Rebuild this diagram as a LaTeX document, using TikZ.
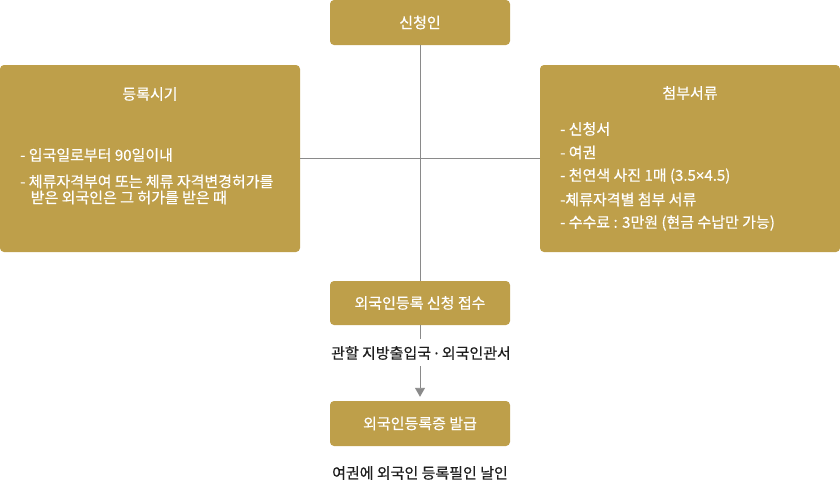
\documentclass[tikz,border=0pt]{standalone}
\usepackage{fontspec}
\setmainfont{Noto Sans CJK KR}[FakeBold=0.5]
\newfontfamily\latinfont{Noto Sans}[FakeBold=0.5]
\usetikzlibrary{arrows.meta}
\definecolor{gold}{HTML}{BE9F4A}
\definecolor{lineg}{HTML}{8A8A8A}
\definecolor{darktxt}{HTML}{1E1E1E}
\tikzset{
  goldbox/.style={fill=gold, draw=none, rounded corners=4pt, inner sep=0pt, text=white, font=\fontsize{15}{17}\selectfont},
  boxtxt/.style={text=white, inner sep=0pt, font=\fontsize{15}{17}\selectfont},
  plaintxt/.style={text=darktxt, inner sep=0pt, font=\fontsize{15}{17}\selectfont},
  conn/.style={draw=lineg, line width=0.9pt},
}
\begin{document}
\begin{tikzpicture}[x=1pt,y=-1pt]
\useasboundingbox (0,0) rectangle (840,485);
% boxes
\node[goldbox, minimum width=180pt, minimum height=45pt] (apply) at (420,22.5) {신청인};
\node[goldbox, minimum width=300pt, minimum height=187pt] (period) at (150,158.5) {};
\node[goldbox, minimum width=300pt, minimum height=187pt] (docs) at (690,158.5) {};
\node[goldbox, minimum width=180pt, minimum height=44pt] (receipt) at (420,303) {외국인등록 신청 접수};
\node[goldbox, minimum width=180pt, minimum height=45pt] (issue) at (420,423.5) {외국인등록증 발급};
% texts in left box
\node[boxtxt] (periodtitle) at (150,94) {등록시기};
\node[boxtxt, anchor=west] (p1) at (20,155) {- 입국일로부터 90일이내};
\node[boxtxt, anchor=west] (p2a) at (20,181.5) {- 체류자격부여 또는 체류 자격변경허가를};
\node[boxtxt, anchor=west] (p2b) at (30.5,197.5) {받은 외국인은 그 허가를 받은 때};
% texts in right box
\node[boxtxt] (docstitle) at (690,93) {첨부서류};
\node[boxtxt, anchor=west] (d1) at (560,129) {- 신청서};
\node[boxtxt, anchor=west] (d2) at (560,152.5) {- 여권};
\node[boxtxt, anchor=west] (d3) at (560,176) {- 천연색 사진 1매 (3.5{\latinfont ×}4.5)};
\node[boxtxt, anchor=west] (d4) at (560,199.5) {-체류자격별 첨부 서류};
\node[boxtxt, anchor=west] (d5) at (560,223) {- 수수료 : 3만원 (현금 수납만 가능)};
% plain labels
\node[plaintxt] (juris) at (421,353) {관할 지방출입국 {\latinfont ·} 외국인관서};
\node[plaintxt] (stamp) at (420,473) {여권에 외국인 등록필인 날인};
% connectors
\draw[conn] (apply.south) -- (receipt.north);
\draw[conn] (period.east) -- (docs.west);
\draw[conn] (receipt.south) -- ([yshift=7pt]juris.north -| receipt.south);
\draw[conn, -{Triangle[width=10pt,length=9pt]}, shorten >=4pt] ([yshift=-6pt]juris.south -| issue.north) -- (issue.north);
\end{tikzpicture}
\end{document}
